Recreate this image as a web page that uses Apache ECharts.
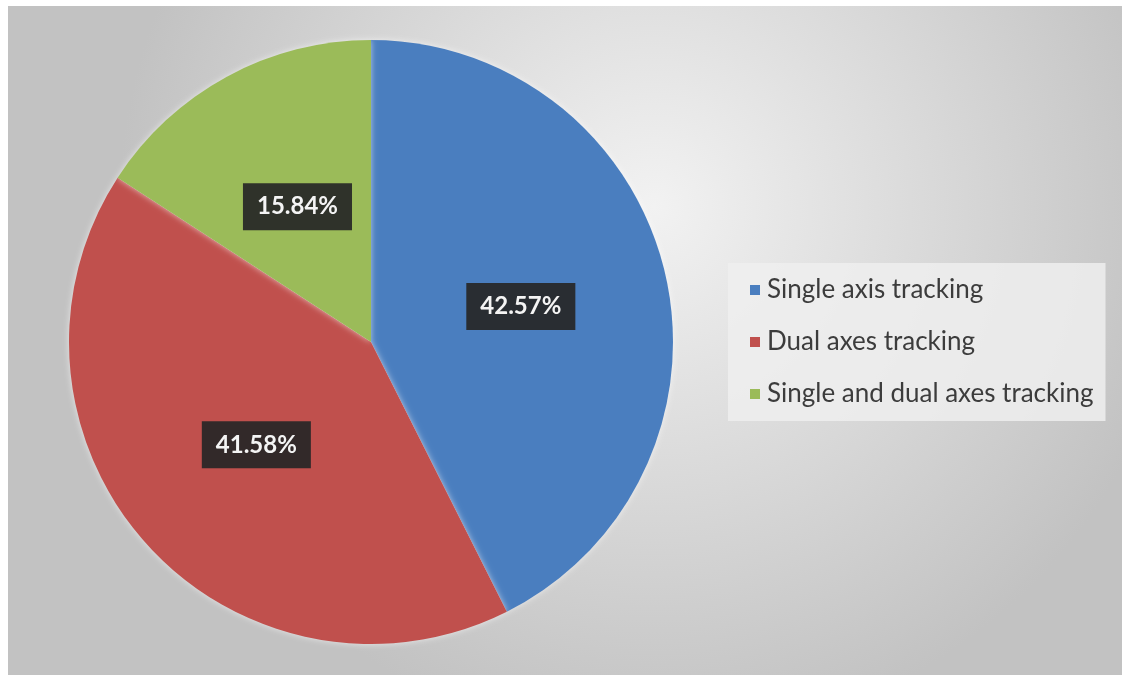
<!DOCTYPE html>
<html>
<head>
<meta charset="utf-8">
<script src="https://cdn.jsdelivr.net/npm/echarts@6/dist/echarts.min.js"></script>
<style>
  html, body { margin: 0; padding: 0; background: #fff; }
  #chart { width: 1122px; height: 675px; }
</style>
</head>
<body>
<div id="chart"></div>
<script>
// tracking types and their shares (%)
const categories = ['Single axis tracking', 'Dual axes tracking', 'Single and dual axes tracking']
const shares = [42.57, 41.58, 15.84]
const colors = ['#4a7ebf', '#c0504d', '#9bbb59']

const chart = echarts.init(document.getElementById('chart'))

let pieData = categories.map((name, i) => {
    return {name: name, value: shares[i]}
})

const option = {
    color: colors,
    animation: false,
    graphic: [{
        type: 'rect',
        left: 8,
        top: 6,
        z: -10,
        shape: {width: 1114, height: 669},
        style: {
            fill: new echarts.graphic.RadialGradient(0.58, 0.3, 0.8, [
                {offset: 0, color: '#f2f2f2'},
                {offset: 1, color: '#c2c2c2'}
            ])
        }
    }],
    legend: {
        orient: 'vertical',
        left: 728,
        top: 263,
        icon: 'rect',
        itemWidth: 10,
        itemHeight: 10,
        itemGap: 26,
        padding: [14, 12, 14, 22],
        backgroundColor: 'rgba(238,238,238,0.85)',
        textStyle: {
            fontFamily: 'Lato',
            fontSize: 26,
            color: '#3c3c3c',
            padding: [0, 0, 0, 2]
        },
        data: categories
    },
    series: [{
        type: 'pie',
        center: [371, 342],
        radius: 302,
        startAngle: 90,
        clockwise: true,
        label: {
            show: true,
            position: 'inside',
            formatter: (p) => p.value.toFixed(2) + '%',
            fontFamily: 'Lato',
            fontSize: 24,
            fontWeight: 'bold',
            color: '#f4f4f4',
            backgroundColor: 'rgba(38,38,38,0.92)',
            padding: [12, 14, 11, 14]
        },
        labelLine: {show: false},
        itemStyle: {
            borderWidth: 0,
            shadowBlur: 6,
            shadowColor: 'rgba(255,255,255,0.6)'
        },
        emphasis: {disabled: true},
        data: pieData
    }]
}

chart.setOption(option)
</script>
</body>
</html>
